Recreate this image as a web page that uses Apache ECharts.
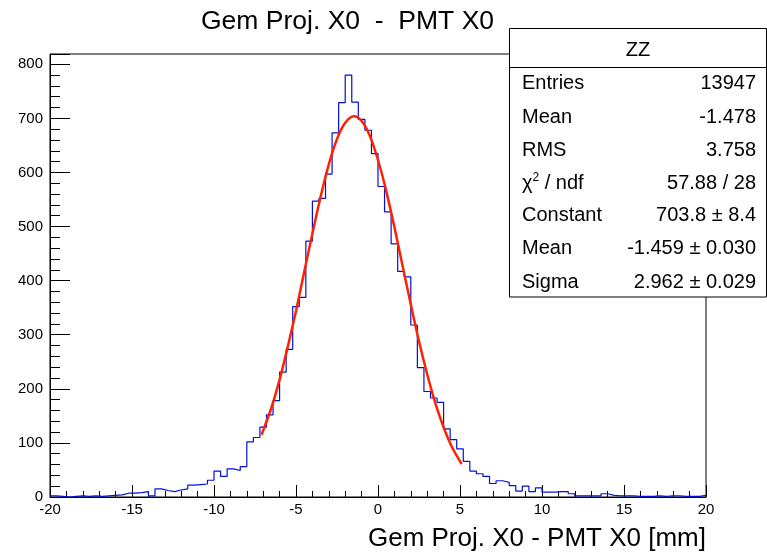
<!DOCTYPE html>
<html>
<head>
<meta charset="utf-8">
<script src="https://cdn.jsdelivr.net/npm/echarts@6/dist/echarts.min.js"></script>
<style>
  html, body { margin: 0; padding: 0; background: #fff; }
  #chart { width: 767px; height: 556px; }
</style>
</head>
<body>
<div id="chart"></div>
<script>
// histogram: 100 bins of 0.4 mm from -20 to 20
const binStart = -20
const binWidth = 0.4
const counts = [
  2, 1, 0, 1, 2, 1, 2, 1, 2, 3,
  4, 7, 7, 8, 10, 2, 15, 12, 10, 13,
  15, 22, 23, 24, 31, 48, 38, 52, 49, 56,
  102, 110, 129, 152, 178, 231, 273, 352, 369, 473,
  547, 552, 597, 673, 729, 780, 730, 698, 678, 635,
  574, 527, 468, 417, 407, 318, 239, 195, 183, 175,
  126, 106, 89, 66, 48, 43, 38, 25, 30, 27,
  21, 11, 20, 10, 17, 9, 9, 10, 10, 6,
  2, 2, 2, 2, 6, 3, 2, 2, 2, 1,
  1, 1, 2, 1, 2, 2, 1, 1, 1, 3
]

// gaussian fit curve
const fitX = [-7.1, -6.5, -6, -5.5, -5, -4.5, -4, -3.5, -3, -2.5, -2, -1.46, -1, -0.5, 0, 0.5, 1, 1.5, 2, 2.5, 3, 3.5, 4, 4.5, 5.1]
const fitY = [115, 165, 217, 278, 344, 416, 487, 555, 615, 662, 692, 704, 695, 668, 623, 566, 499, 427, 356, 288, 227, 173, 129, 93, 61]

// stats box
const statTitle = 'ZZ'
const statLabels = ['Entries', 'Mean', 'RMS', 'χ{sup|2} / ndf', 'Constant', 'Mean', 'Sigma']
const statValues = ['13947', '-1.478', '3.758', '57.88 / 28', '703.8 ± 8.4', '-1.459 ± 0.030', '2.962 ± 0.029']

const title = 'Gem Proj. X0  -  PMT X0'
const xTitle = 'Gem Proj. X0 - PMT X0 [mm]'

const font = 'Liberation Sans'

const histData = counts.map((c, i) => [binStart + i * binWidth, c])
histData.push([binStart + counts.length * binWidth, counts[counts.length - 1]])
const fitData = fitX.map((x, i) => [x, fitY[i]])

const myChart = echarts.init(document.getElementById('chart'))

const rowY = [83, 117, 150, 183, 215, 248, 282]
const statTexts = []
statLabels.forEach((l, i) => {
  statTexts.push({
    type: 'text',
    style: {
      x: 522, y: rowY[i], text: l, align: 'left', verticalAlign: 'middle',
      font: '20px "' + font + '"', fill: '#000',
      rich: { sup: { fontSize: 12, verticalAlign: 'top', padding: [0, 0, 10, 0], fontFamily: font } }
    }
  })
  statTexts.push({
    type: 'text',
    style: {
      x: 756, y: rowY[i], text: statValues[i], align: 'right', verticalAlign: 'middle',
      font: '20px "' + font + '"', fill: '#000'
    }
  })
})

const options = {
  animation: false,
  backgroundColor: '#fff',
  title: {
    text: title,
    left: 196,
    top: 3,
    textStyle: { fontFamily: font, fontSize: 26.5, fontWeight: 'normal', color: '#000' }
  },
  grid: {
    left: 50,
    right: 61,
    top: 54,
    bottom: 59,
    show: true,
    borderColor: '#000',
    borderWidth: 1
  },
  xAxis: {
    type: 'value',
    min: -20,
    max: 20,
    interval: 5,
    axisLine: { onZero: false, lineStyle: { color: '#000', width: 1 } },
    axisTick: { inside: true, length: 12, lineStyle: { color: '#000' } },
    minorTick: { show: true, splitNumber: 5, length: 6, lineStyle: { color: '#000' } },
    splitLine: { show: false },
    axisLabel: { color: '#000', fontFamily: font, fontSize: 15, margin: 5 }
  },
  yAxis: {
    type: 'value',
    min: 0,
    max: 819,
    interval: 100,
    axisLine: { show: true, onZero: false, lineStyle: { color: '#000', width: 1 } },
    axisTick: { inside: true, length: 20, lineStyle: { color: '#000' } },
    minorTick: { show: true, splitNumber: 5, length: 10, lineStyle: { color: '#000' } },
    splitLine: { show: false },
    axisLabel: { color: '#000', fontFamily: font, fontSize: 15, margin: 7, showMaxLabel: false }
  },
  series: [
    {
      name: 'hist',
      type: 'line',
      step: 'end',
      symbol: 'none',
      lineStyle: { color: '#0010d8', width: 1.2 },
      data: histData,
      z: 2
    },
    {
      name: 'fit',
      type: 'line',
      smooth: 0.3,
      symbol: 'none',
      lineStyle: { color: '#ff2200', width: 2.5 },
      data: fitData,
      z: 3
    }
  ],
  graphic: [
    {
      type: 'text',
      z: 100,
      style: {
        x: 706, y: 539, text: xTitle, align: 'right', verticalAlign: 'middle',
        font: '26px "' + font + '"', fill: '#000'
      }
    },
    {
      type: 'group',
      z: 100,
      children: [
        {
          type: 'rect',
          shape: { x: 509.5, y: 28.5, width: 257, height: 268.5 },
          style: { fill: '#fff', stroke: '#000', lineWidth: 1 }
        },
        {
          type: 'line',
          shape: { x1: 509.5, y1: 67.5, x2: 766.5, y2: 67.5 },
          style: { stroke: '#000', lineWidth: 1 }
        },
        {
          type: 'text',
          style: {
            x: 638, y: 50, text: statTitle, align: 'center', verticalAlign: 'middle',
            font: '20px "' + font + '"', fill: '#000'
          }
        }
      ].concat(statTexts)
    }
  ]
}
myChart.setOption(options)
</script>
</body>
</html>
